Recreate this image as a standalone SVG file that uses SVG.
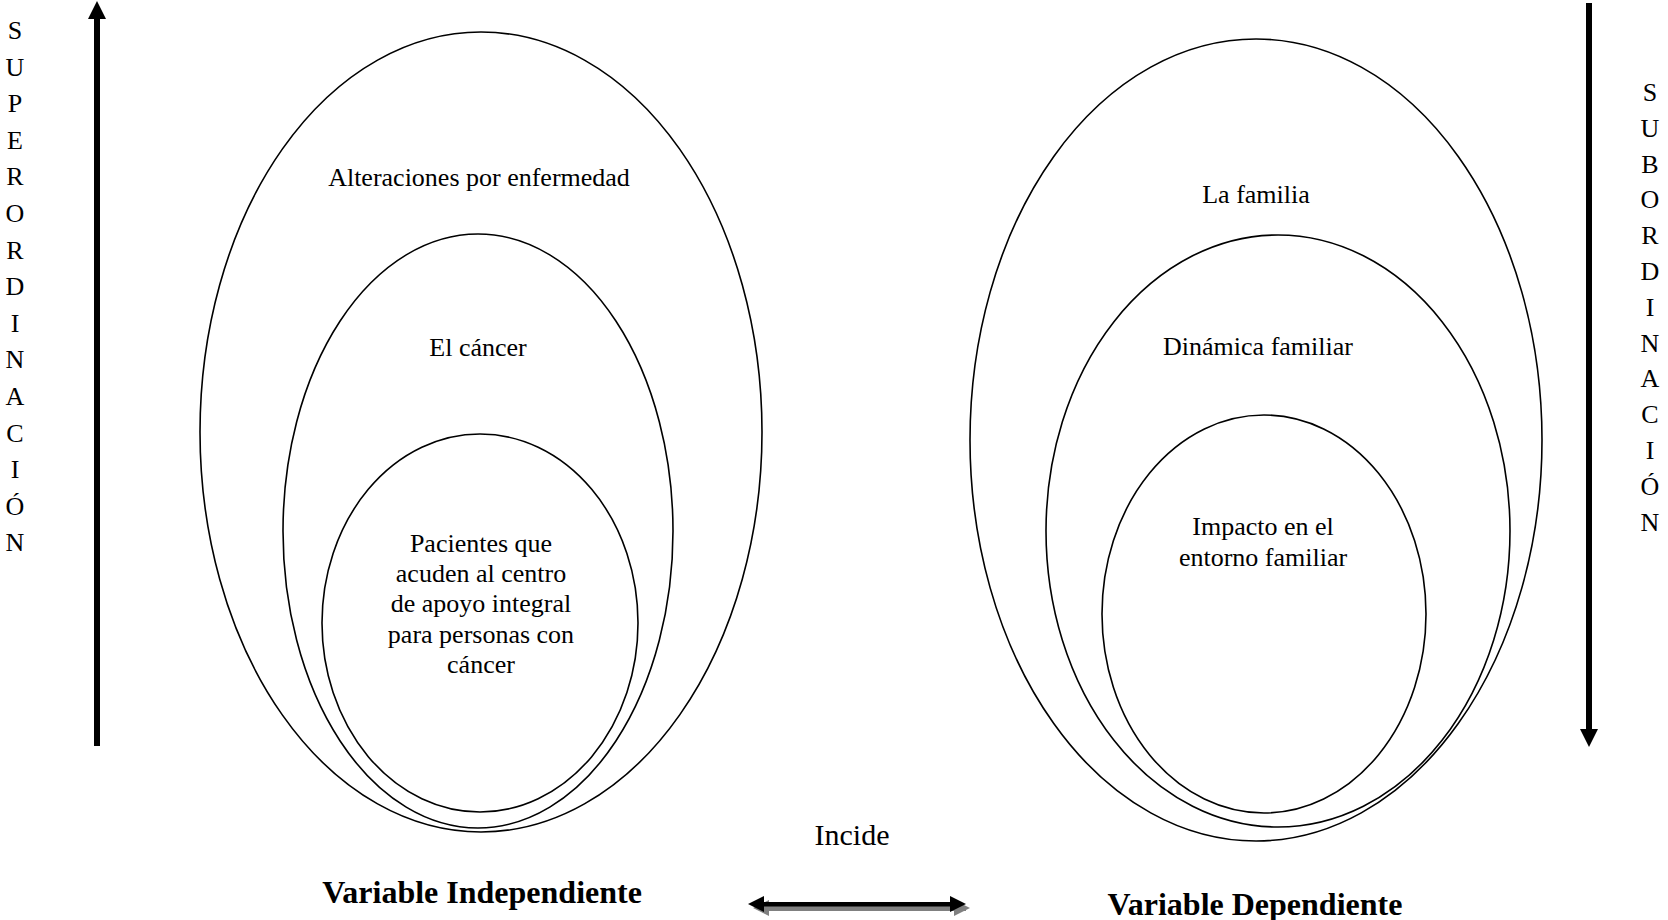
<svg xmlns="http://www.w3.org/2000/svg" width="1668" height="920" viewBox="0 0 1668 920">
<style>
.e{fill:none;stroke:#000;stroke-width:1.6}
.t{font-family:"Liberation Serif","Times New Roman",serif;font-size:26px;fill:#000;text-anchor:middle}
.b{font-family:"Liberation Serif","Times New Roman",serif;font-size:32px;font-weight:bold;fill:#000;text-anchor:middle}
</style>
<rect width="1668" height="920" fill="#fff"/>
<g id="left-outer"><ellipse class="e" cx="481" cy="432" rx="281" ry="400"/><text class="t" x="479" y="186">Alteraciones por enfermedad</text></g>
<g id="left-middle"><ellipse class="e" cx="478" cy="531" rx="195" ry="297"/><text class="t" x="478" y="356">El cáncer</text></g>
<g id="left-inner"><ellipse class="e" cx="480" cy="623" rx="158" ry="189"/>
<text class="t" x="481" y="552">Pacientes que</text>
<text class="t" x="481" y="582">acuden al centro</text>
<text class="t" x="481" y="612">de apoyo integral</text>
<text class="t" x="481" y="643">para personas con</text>
<text class="t" x="481" y="673">cáncer</text></g>
<g id="right-outer"><ellipse class="e" cx="1256" cy="440" rx="286" ry="401"/><text class="t" x="1256" y="203">La familia</text></g>
<g id="right-middle"><ellipse class="e" cx="1278" cy="531" rx="232" ry="296"/><text class="t" x="1258" y="355">Dinámica familiar</text></g>
<g id="right-inner"><ellipse class="e" cx="1264" cy="614" rx="162" ry="199"/>
<text class="t" x="1263" y="535">Impacto en el</text>
<text class="t" x="1263" y="566">entorno familiar</text></g>
<g id="superordinacion" class="t">
<text x="15" y="39">S</text><text x="15" y="75.6">U</text><text x="15" y="112.2">P</text><text x="15" y="148.8">E</text><text x="15" y="185.4">R</text><text x="15" y="222">O</text><text x="15" y="258.6">R</text><text x="15" y="295.2">D</text><text x="15" y="331.8">I</text><text x="15" y="368.4">N</text><text x="15" y="405">A</text><text x="15" y="441.6">C</text><text x="15" y="478.2">I</text><text x="15" y="514.8">Ó</text><text x="15" y="551.4">N</text>
</g>
<g id="subordinacion" class="t">
<text x="1650" y="101">S</text><text x="1650" y="136.8">U</text><text x="1650" y="172.6">B</text><text x="1650" y="208.4">O</text><text x="1650" y="244.2">R</text><text x="1650" y="280">D</text><text x="1650" y="315.8">I</text><text x="1650" y="351.6">N</text><text x="1650" y="387.4">A</text><text x="1650" y="423.2">C</text><text x="1650" y="459">I</text><text x="1650" y="494.8">Ó</text><text x="1650" y="530.6">N</text>
</g>
<g id="labels">
<text class="t" x="852" y="845" style="font-size:30px">Incide</text>
<text class="b" x="482" y="903">Variable Independiente</text>
<text class="b" x="1255" y="915">Variable Dependiente</text>
</g>
<g id="connectors">
<line x1="97" y1="17" x2="97" y2="746" stroke="#000" stroke-width="6"/>
<polygon points="97,1 106,19 88,19" fill="#000"/>
<line x1="1589" y1="3" x2="1589" y2="731" stroke="#000" stroke-width="6"/>
<polygon points="1589,747 1598,729 1580,729" fill="#000"/>
<g fill="#808080">
<rect x="766" y="906" width="200" height="5"/>
<polygon points="753,908 769,900 769,916"/>
<polygon points="970,908 954,900 954,916"/>
</g>
<g fill="#000">
<rect x="760" y="902" width="196" height="4.5"/>
<polygon points="748,904 764,896 764,912"/>
<polygon points="966,904 950,896 950,912"/>
</g>
</g>
</svg>
